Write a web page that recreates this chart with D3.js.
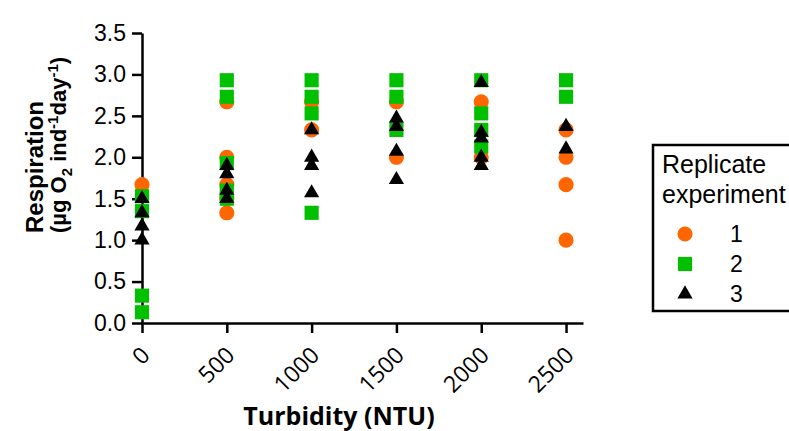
<!DOCTYPE html>
<html><head><meta charset="utf-8">
<script src="https://cdn.jsdelivr.net/npm/d3@7"></script>
<style>body{margin:0;background:#fff}svg{display:block}</style>
</head><body>
<svg id="c" width="789" height="431"></svg>
<script>
const xTicks = [0, 500, 1000, 1500, 2000, 2500];
const yTicks = [0, 0.5, 1.0, 1.5, 2.0, 2.5, 3.0, 3.5];
const seriesNames = ["1", "2", "3"];
const seriesColors = ["#FF6600", "#00C000", "#000000"];
// Replicate 1 (circles)
const rep1X = [0, 500, 500, 500, 500, 500, 1000, 1000, 1500, 1500, 2000, 2000, 2500, 2500, 2500, 2500];
const rep1Y = [1.67, 2.67, 2.0, 1.67, 1.33, 1.5, 2.67, 2.33, 2.67, 2.0, 2.67, 2.0, 2.33, 2.0, 1.67, 1.0];
// Replicate 2 (squares)
const rep2X = [0, 0, 0, 0, 500, 500, 500, 500, 500, 1000, 1000, 1000, 1000, 1500, 1500, 1500, 2000, 2000, 2000, 2000, 2500, 2500];
const rep2Y = [1.53, 1.35, 0.33, 0.13, 2.93, 2.73, 1.93, 1.6, 1.5, 2.93, 2.73, 2.53, 1.33, 2.93, 2.73, 2.33, 2.93, 2.53, 2.33, 2.13, 2.93, 2.73];
// Replicate 3 (triangles)
const rep3X = [0, 0, 0, 0, 500, 500, 500, 500, 1000, 1000, 1000, 1000, 1500, 1500, 1500, 1500, 2000, 2000, 2000, 2000, 2000, 2500, 2500];
const rep3Y = [1.5, 1.33, 1.17, 1.0, 1.9, 1.8, 1.6, 1.5, 2.33, 2.0, 1.9, 1.57, 2.47, 2.37, 2.07, 1.73, 2.9, 2.3, 2.23, 2.0, 1.9, 2.37, 2.1];

const svg = d3.select("#c");
const x = d3.scaleLinear().domain([0, 2600]).range([142, 583]);
const y = d3.scaleLinear().domain([0, 3.5]).range([323, 33]);
const font = "Arial, 'Liberation Sans', sans-serif";

// Axes
const gx = svg.append("g").attr("transform", "translate(0,323)")
  .call(d3.axisBottom(x).tickValues(xTicks).tickSize(10).tickSizeOuter(0).tickFormat(d3.format("d")));
gx.select(".domain").attr("stroke-width", 2.5);
gx.selectAll(".tick line").attr("stroke-width", 2.5);
gx.selectAll(".tick text")
  .attr("font-family", "'Open Sans', sans-serif").attr("font-size", 23).attr("fill", "#000")
  .attr("text-anchor", "end").attr("y", 0).attr("dy", "0.35em")
  .attr("transform", "translate(3,28) rotate(-45)");

const gy = svg.append("g").attr("transform", "translate(142,0)")
  .call(d3.axisLeft(y).tickValues(yTicks).tickSize(10).tickSizeOuter(0).tickFormat(d3.format(".1f")));
gy.select(".domain").attr("stroke-width", 2.5);
gy.selectAll(".tick line").attr("stroke-width", 2.5);
gy.selectAll(".tick text").attr("font-family", font).attr("font-size", 23).attr("fill", "#000").attr("x", -16);

// Symbols
const sym = [d3.symbol().type(d3.symbolCircle).size(180),
             d3.symbol().type(d3.symbolSquare).size(200),
             d3.symbol().type(d3.symbolTriangle).size(100)];
const series = [[rep1X, rep1Y], [rep2X, rep2Y], [rep3X, rep3Y]];
series.forEach(([xs, ys], i) => {
  svg.append("g").selectAll("path").data(xs.map((v, j) => [v, ys[j]])).join("path")
    .attr("d", sym[i]())
    .attr("transform", d => `translate(${x(d[0])},${y(d[1])})`)
    .attr("fill", seriesColors[i]);
});

// Y title
const yt = svg.append("text").attr("transform", "translate(43,233) rotate(-90)")
  .attr("font-family", font).attr("font-weight", "bold").attr("font-size", 24).attr("text-anchor", "start");
yt.text("Respiration");
const yt2 = svg.append("text").attr("transform", "translate(66,233) rotate(-90)")
  .attr("font-family", font).attr("font-weight", "bold").attr("font-size", 22).attr("text-anchor", "start");
yt2.append("tspan").text("(µg O");
yt2.append("tspan").attr("font-size", 15).attr("dy", 6).text("2");
yt2.append("tspan").attr("dy", -6).text(" ind");
yt2.append("tspan").attr("font-size", 15).attr("dy", -8).text("-1");
yt2.append("tspan").attr("dy", 8).text("day");
yt2.append("tspan").attr("font-size", 15).attr("dy", -8).text("-1");
yt2.append("tspan").attr("dy", 8).text(")");

// X title
svg.append("text").attr("x", 339).attr("y", 425).attr("text-anchor", "middle")
  .attr("font-family", "'Open Sans', sans-serif").attr("font-weight", "bold").attr("font-size", 25)
  .text("Turbidity (NTU)");

// Legend
const lg = svg.append("g");
lg.append("rect").attr("x", 653).attr("y", 145).attr("width", 160).attr("height", 166)
  .attr("fill", "none").attr("stroke", "#000").attr("stroke-width", 2.5);
lg.append("text").attr("x", 662).attr("y", 173).attr("font-family", font).attr("font-size", 25).text("Replicate");
lg.append("text").attr("x", 662).attr("y", 203).attr("font-family", font).attr("font-size", 25).text("experiment");
const rowY = [234, 264, 294];
seriesNames.forEach((n, i) => {
  lg.append("path").attr("d", sym[i]()).attr("transform", `translate(685,${rowY[i]})`).attr("fill", seriesColors[i]);
  lg.append("text").attr("x", 730).attr("y", rowY[i] + 8).attr("font-family", font).attr("font-size", 23).text(n);
});
</script>
</body></html>
